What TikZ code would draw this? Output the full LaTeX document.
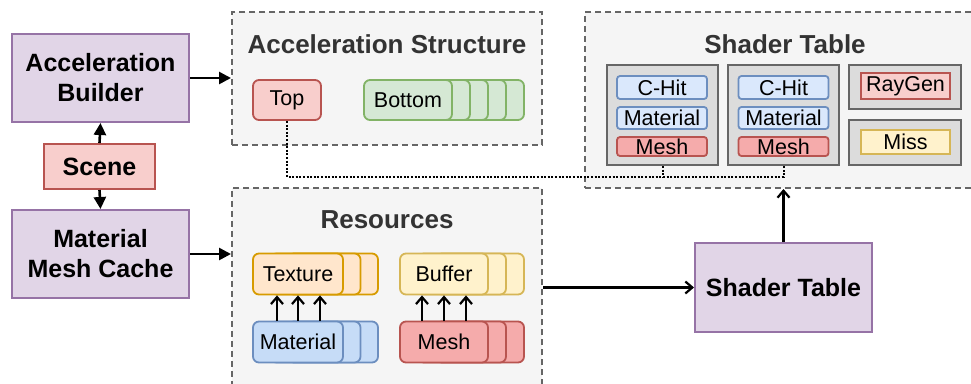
\documentclass[tikz,border=0pt]{standalone}
\usepackage{fontspec}
\setmainfont{Liberation Sans}
\usepackage{tikz}
\usetikzlibrary{arrows.meta}

\definecolor{blockfill}{HTML}{E1D5E7}
\definecolor{blockline}{HTML}{9673A6}
\definecolor{redfill}{HTML}{F8CECC}
\definecolor{redline}{HTML}{B85450}
\definecolor{groupfill}{HTML}{F5F5F5}
\definecolor{groupline}{HTML}{666666}
\definecolor{titlegray}{HTML}{333333}
\definecolor{greenfill}{HTML}{D5E8D4}
\definecolor{greenline}{HTML}{82B366}
\definecolor{orangefill}{HTML}{FFE6CC}
\definecolor{orangeline}{HTML}{D79B00}
\definecolor{yellowfill}{HTML}{FFF2CC}
\definecolor{yellowline}{HTML}{D6B656}
\definecolor{bluefill}{HTML}{DAE8FC}
\definecolor{blueline}{HTML}{6C8EBF}
\definecolor{matfill}{HTML}{C6DCF7}
\definecolor{meshfill}{HTML}{F5ABAB}
\definecolor{entryfill}{HTML}{DCDCDC}

\newcommand\lblbold{\fontsize{25}{30}\selectfont\bfseries}
\newcommand\lbltitle{\fontsize{26}{30}\selectfont\bfseries}
\newcommand\lblplain{\fontsize{21.5}{24}\selectfont}

\begin{document}
\begin{tikzpicture}[x=1pt, y=-1pt,
    block/.style={draw=blockline, fill=blockfill, line width=2pt, inner sep=0pt, align=center, font=\lblbold},
    group/.style={draw=groupline, fill=groupfill, line width=2pt, dash pattern=on 6pt off 4pt, inner sep=0pt},
    grouptitle/.style={text=titlegray, font=\lbltitle},
    item/.style={rounded corners=6pt, line width=1.8pt, inner sep=0pt, minimum height=41pt, font=\lblplain},
    entry/.style={draw=groupline, fill=entryfill, line width=2pt, inner sep=0pt, minimum width=111pt},
    slot/.style={rounded corners=3pt, line width=1.8pt, inner sep=0pt, minimum width=90pt, font=\lblplain},
    fat/.style={-{Triangle[length=12pt,width=12pt]}, line width=2.6pt},
    thin/.style={-{Straight Barb[length=7pt,width=12pt]}, line width=2.2pt},
    dots/.style={line width=2pt, dash pattern=on 2pt off 1.6pt}]

    \useasboundingbox (0,0) rectangle (971,383);
    \clip (0,0) rectangle (971,383);

    %Groups
    \node[group, minimum width=310pt, minimum height=133pt] at (387, 78.5) (acc) {};
    \node[group, minimum width=310pt, minimum height=207pt] at (387, 291.5) (res) {};
    \node[group, minimum width=390pt, minimum height=176pt] at (780, 100) (stbox) {};
    \node[grouptitle] at (387, 44) (acctitle) {Acceleration Structure};
    \node[grouptitle] at (387, 220) (restitle) {Resources};
    \node[grouptitle] at (785, 44) (sttitle) {Shader Table};

    %Nodes
    \node[block, minimum width=177pt, minimum height=88pt] at (100.5, 78) (ab) {Acceleration\\Builder};
    \node[block, draw=redline, fill=redfill, minimum width=111pt, minimum height=45pt] at (99.5, 166.5) (scene) {Scene};
    \node[block, minimum width=177pt, minimum height=88pt] at (100.5, 254) (mmc) {Material\\Mesh Cache};
    \node[block, minimum width=177pt, minimum height=89pt] at (783.5, 287.5) (stnode) {Shader Table};

    %Acceleration structure
    \node[item, draw=redline, fill=redfill, minimum width=68pt, minimum height=40pt] at (287, 100) (top) {Top};
    \foreach \k in {4,...,1}
        \node[item, draw=greenline, fill=greenfill, minimum width=88pt, minimum height=40pt] at (408+18*\k, 100) (bot\k) {};
    \node[item, draw=greenline, fill=greenfill, minimum width=88pt, minimum height=40pt] at (408, 100) (bottom) {Bottom};

    %Resources
    \foreach \k in {2,1} {
        \node[item, draw=orangeline, fill=orangefill, minimum width=90pt] at (298+17.5*\k, 274) (tex\k) {};
        \node[item, draw=blueline, fill=matfill, minimum width=90pt] at (298+17.5*\k, 342) (mat\k) {};
        \node[item, draw=yellowline, fill=yellowfill, minimum width=88pt] at (444+18*\k, 274) (buf\k) {};
        \node[item, draw=redline, fill=meshfill, minimum width=88pt] at (444+18*\k, 342) (mesh\k) {};
    }
    \node[item, draw=orangeline, fill=orangefill, minimum width=90pt] at (298, 274) (tex) {Texture};
    \node[item, draw=blueline, fill=matfill, minimum width=90pt] at (298, 342) (mat) {Material};
    \node[item, draw=yellowline, fill=yellowfill, minimum width=88pt] at (444, 274) (buf) {Buffer};
    \node[item, draw=redline, fill=meshfill, minimum width=88pt] at (444, 342) (mesh) {Mesh};

    %Shader table
    \node[entry, minimum height=100pt] at (662.5, 115) (ent1) {};
    \node[entry, minimum height=100pt] at (783.5, 115) (ent2) {};
    \node[entry, minimum width=112pt, minimum height=44pt] at (905, 87) (rgbox) {};
    \node[entry, minimum width=112pt, minimum height=45pt] at (905, 142.5) (missbox) {};
    \foreach \e/\cx in {1/662, 2/783.5} {
        \node[slot, draw=blueline, fill=bluefill, minimum height=23pt] at (\cx, 87.5) (hit\e) {C-Hit};
        \node[slot, draw=blueline, fill=bluefill, minimum height=22pt] at (\cx, 118) (smat\e) {Material};
        \node[slot, draw=redline, fill=meshfill, minimum height=19pt] at (\cx, 146.5) (smesh\e) {Mesh};
    }
    \node[slot, rounded corners=0pt, draw=redline, fill=redfill, minimum width=89pt, minimum height=26pt] at (905.5, 86) (raygen) {RayGen};
    \node[slot, rounded corners=0pt, draw=yellowline, fill=yellowfill, minimum width=89pt, minimum height=24pt] at (905.5, 142) (miss) {Miss};

    %Lines
    \coordinate (rowy) at (0, 177);
    \draw[fat] (scene.north) -- (ab.south);
    \draw[fat] (scene.south) -- (mmc.north);
    \draw[fat] (ab.east) -- (ab.east -| acc.west);
    \draw[fat] (mmc.east) -- (mmc.east -| res.west);
    \foreach \dx in {-21pt, 0pt, 22pt} {
        \draw[thin] ([xshift=\dx]mat.north) -- ([xshift=\dx]tex.south);
    }
    \foreach \dx in {-22pt, 0pt, 22pt} {
        \draw[thin] ([xshift=\dx]mesh.north) -- ([xshift=\dx]buf.south);
    }
    \draw[thin] (stnode.west -| res.east) -- (stnode.west);
    \draw[thin] (stnode.north) -- (stnode.north |- stbox.south);
    \draw[dots] (top.south) |- (ent2.south |- rowy) -- (ent2.south);
    \draw[dots] (ent1.south) -- (ent1.south |- rowy);

\end{tikzpicture}
\end{document}
